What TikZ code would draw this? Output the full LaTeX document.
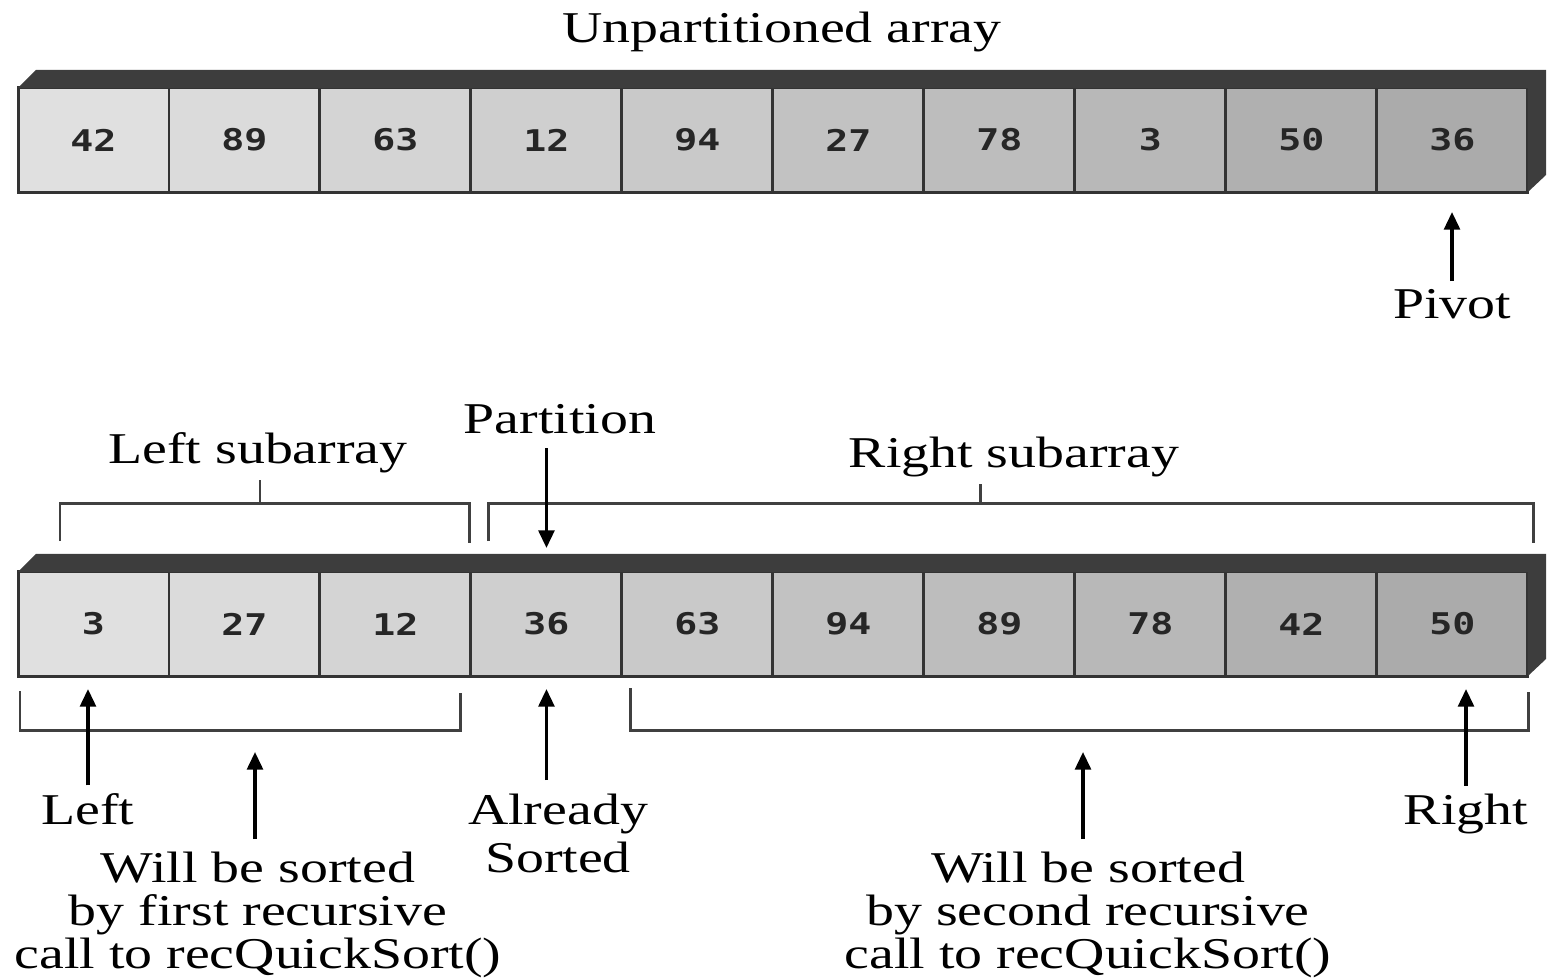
\documentclass[tikz,border=0pt]{standalone}
\usepackage{fontspec}
\usetikzlibrary{arrows.meta,positioning}
\newfontfamily\labelfont{Liberation Serif}
\newfontfamily\digitfont{DejaVu Sans Mono}
\newcommand{\cellnum}[1]{\scalebox{1.28}[1]{#1}}

\begin{document}
\begin{tikzpicture}[x=0.01cm, y=-0.01cm,
  cell/.style={draw=black!80, line width=0.85pt, fill=black!#1, outer sep=0pt,
               minimum width=1.509cm, minimum height=1.04cm, inner sep=0pt,
               font=\digitfont\bfseries\fontsize{8.5pt}{9pt}\selectfont, text=black!85},
  lbl/.style={font=\labelfont\fontsize{12.5pt}{12.2pt}\selectfont, inner sep=2pt,
              align=center, xscale=1.27, transform shape},
  brk/.style={draw=black!75, line width=0.85pt},
  arr/.style={-{Triangle[width=4.5pt,length=5pt]}, line width=0.9pt},
  band/.style={fill=black!76}]

\useasboundingbox (0,0) rectangle (1549,979);

% unpartitioned array
\node[cell=12] (t1) at (93.5,140) {\cellnum{42}};
\node[cell=14, right=0pt of t1] (t2) {\cellnum{89}};
\node[cell=17, right=0pt of t2] (t3) {\cellnum{63}};
\node[cell=19, right=0pt of t3] (t4) {\cellnum{12}};
\node[cell=21, right=0pt of t4] (t5) {\cellnum{94}};
\node[cell=24, right=0pt of t5] (t6) {\cellnum{27}};
\node[cell=26, right=0pt of t6] (t7) {\cellnum{78}};
\node[cell=28, right=0pt of t7] (t8) {\cellnum{3}};
\node[cell=31, right=0pt of t8] (t9) {\cellnum{50}};
\node[cell=33, right=0pt of t9] (t10) {\cellnum{36}};
\fill[band] (t1.north west) -- ++(18,-18) -- ++(1510,0) -- ++(0,105)
  -- (t10.south east) -- (t10.north east) -- cycle;

\node[lbl, anchor=base] (title) at (782,43) {Unpartitioned array};
\node[lbl, anchor=base] (pivot) at (1452,318) {Pivot};
\draw[arr, shorten >=0.2cm] (pivot.north) -- (pivot.north |- t10.south);

% partitioned array
\node[cell=12] (b1) at (93.5,624) {\cellnum{3}};
\node[cell=14, right=0pt of b1] (b2) {\cellnum{27}};
\node[cell=17, right=0pt of b2] (b3) {\cellnum{12}};
\node[cell=19, right=0pt of b3] (b4) {\cellnum{36}};
\node[cell=21, right=0pt of b4] (b5) {\cellnum{63}};
\node[cell=24, right=0pt of b5] (b6) {\cellnum{94}};
\node[cell=26, right=0pt of b6] (b7) {\cellnum{89}};
\node[cell=28, right=0pt of b7] (b8) {\cellnum{78}};
\node[cell=31, right=0pt of b8] (b9) {\cellnum{42}};
\node[cell=33, right=0pt of b9] (b10) {\cellnum{50}};
\fill[band] (b1.north west) -- ++(18,-18) -- ++(1510,0) -- ++(0,105)
  -- (b10.south east) -- (b10.north east) -- cycle;

% labels above
\node[lbl, anchor=base] (part) at (560,433) {Partition};
\node[lbl, anchor=base] (lsub) at (258,463) {Left subarray};
\node[lbl, anchor=base] (rsub) at (1014,467) {Right subarray};
\coordinate (lbtop) at (260,503);
\coordinate (rbtop) at (980,503);
\draw[brk] (60,541) |- (469,503) -- (469,543);
\draw[brk] (488,541) |- (1533,503) -- (1533,543);
\draw[brk] (lsub.south -| lbtop) -- (lbtop);
\draw[brk] (rsub.south -| rbtop) -- (rbtop);
\draw[arr, shorten <=0.07cm, shorten >=0.24cm] (part.south -| b4.north) -- (b4.north);

% labels below
\node[lbl, anchor=base] (left) at (88,824) {Left};
\node[lbl, anchor=base] (right) at (1466,824) {Right};
\node[lbl, anchor=north, font=\labelfont\fontsize{12.5pt}{13.6pt}\selectfont] (done) at (558,786) {Already\\Sorted};
\node[lbl, anchor=north] (wsl) at (258,844) {Will be sorted\\by first recursive\\call to recQuickSort()};
\node[lbl, anchor=north] (wsr) at (1088,844) {Will be sorted\\by second recursive\\call to recQuickSort()};
\coordinate (lbbot) at (255,730);
\coordinate (rbbot) at (1083,730);
\draw[brk] (20,691) |- (460,730) -- (460,693);
\draw[brk] (630,688) |- (1528,730) -- (1528,692);

\draw[arr, shorten >=0.13cm] (left.north) -- (left.north |- b1.south);
\draw[arr, shorten <=0.06cm, shorten >=0.13cm] (b4.south |- done.north) -- (b4.south);
\draw[arr, shorten >=0.13cm] (right.north) -- (right.north |- b10.south);
\draw[arr, shorten <=0.05cm, shorten >=0.22cm] (wsl.north -| lbbot) -- (lbbot);
\draw[arr, shorten <=0.05cm, shorten >=0.22cm] (wsr.north -| rbbot) -- (rbbot);

\end{tikzpicture}
\end{document}
